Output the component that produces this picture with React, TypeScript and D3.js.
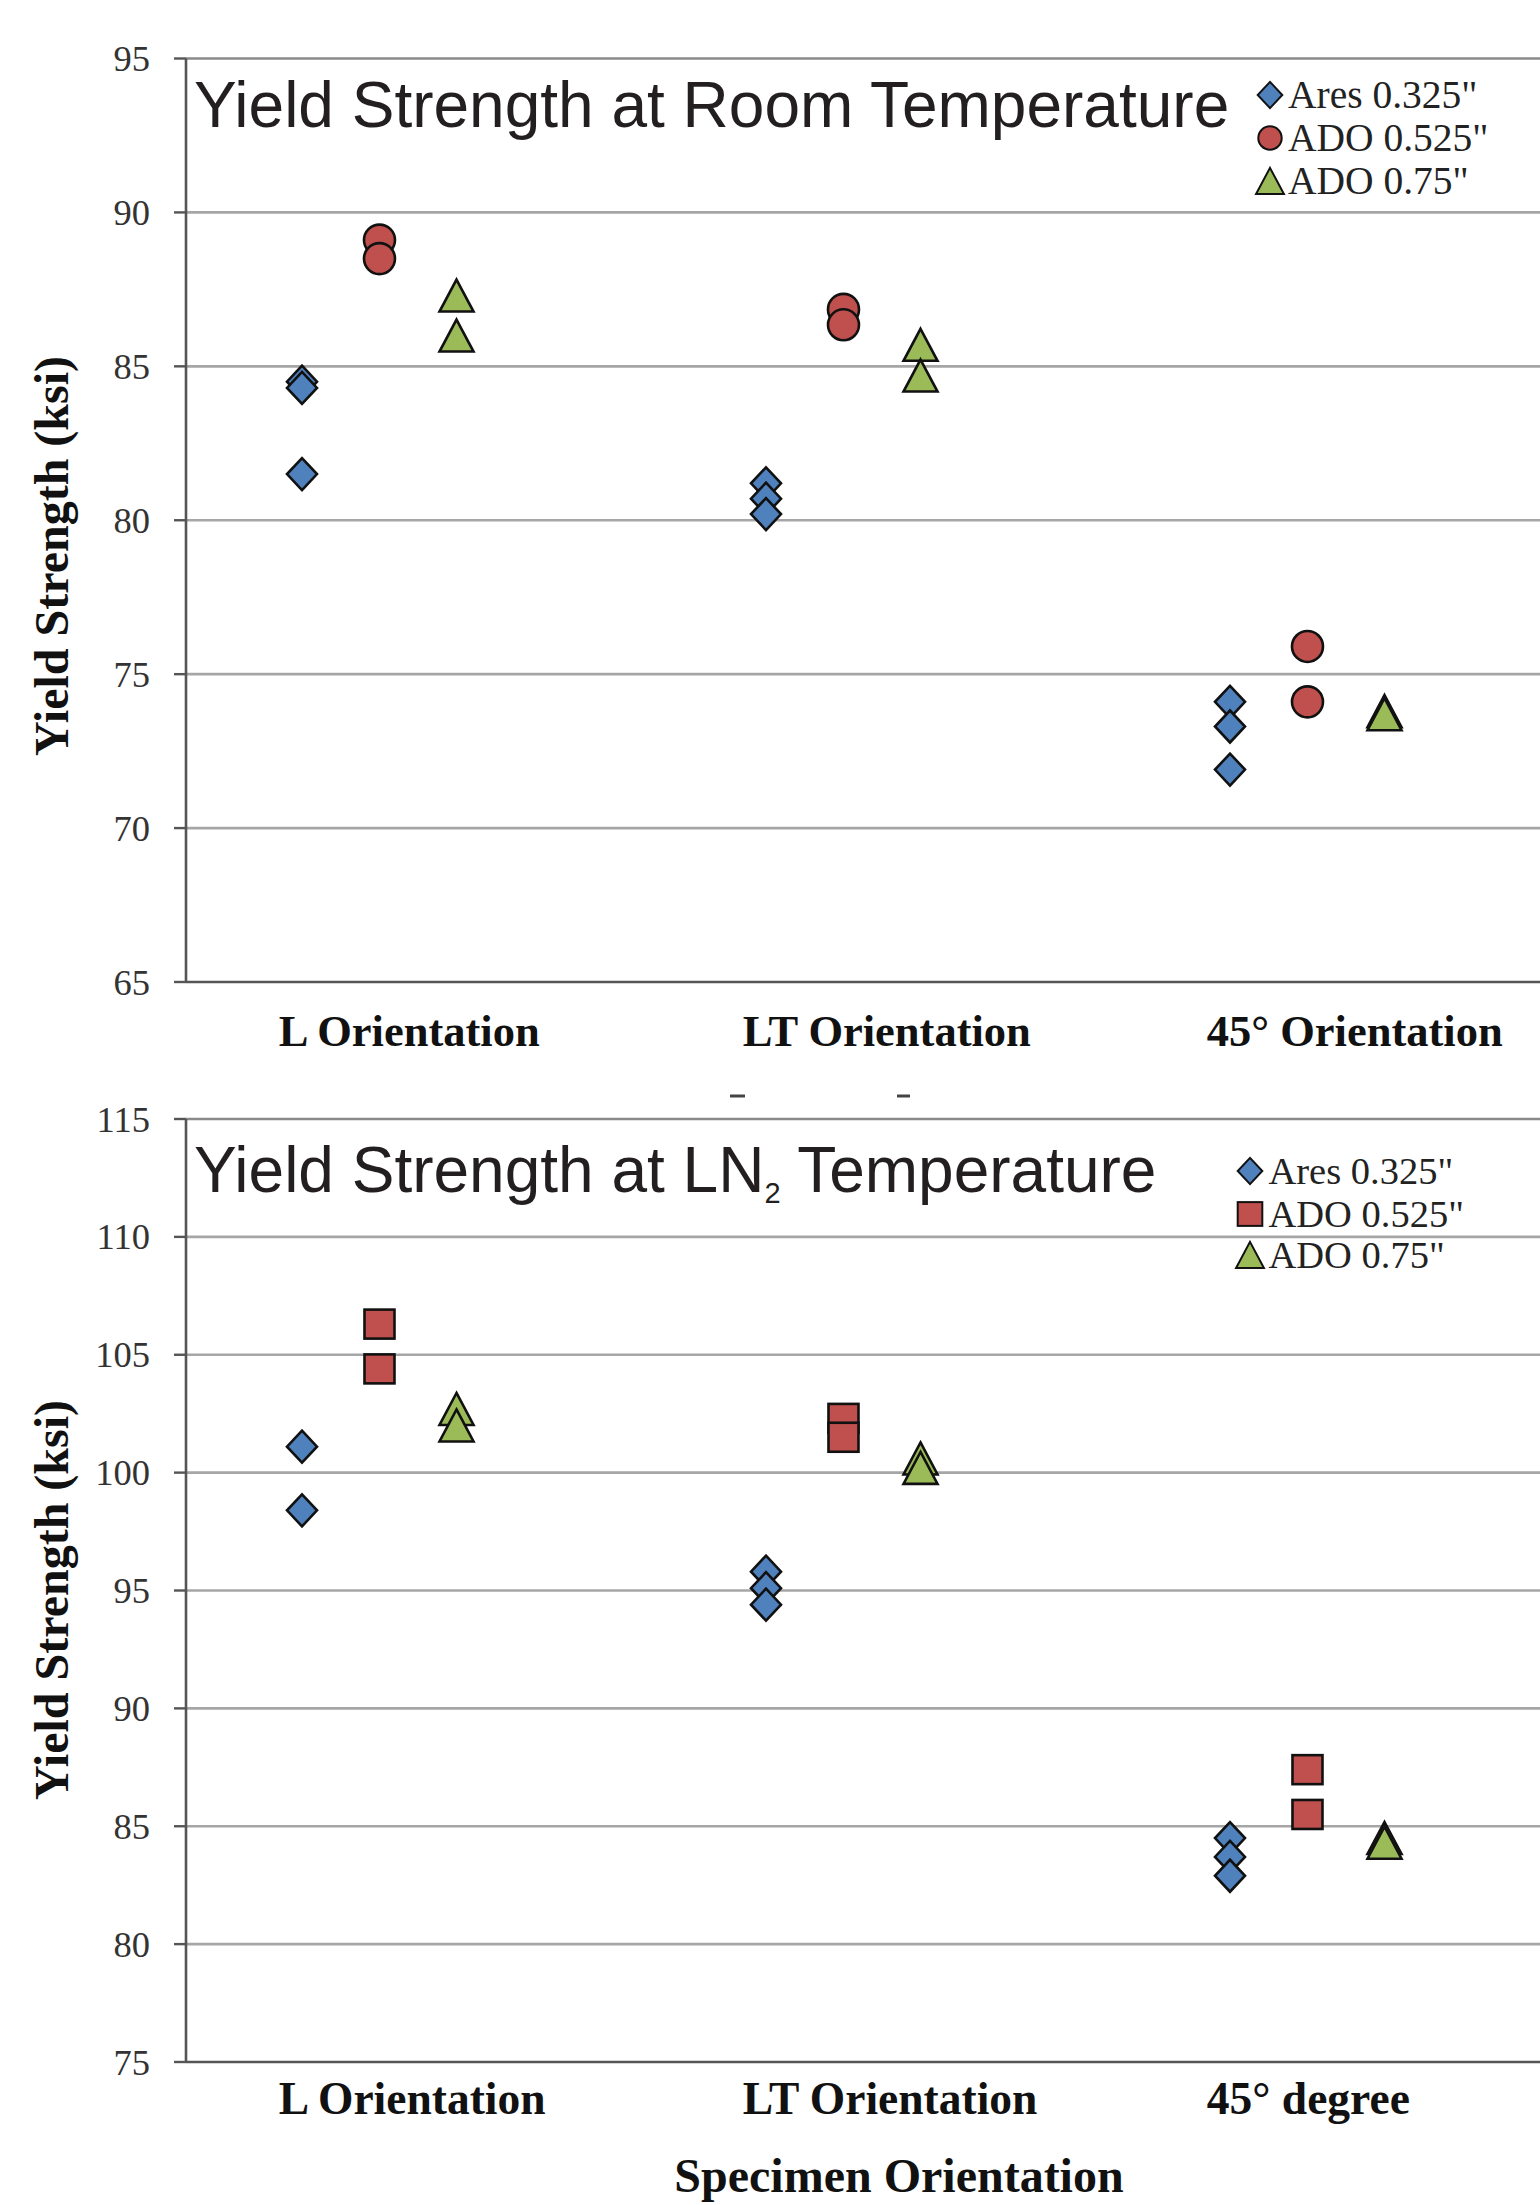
import React from "react";
import * as d3 from "d3";

// ---------------- DATA ----------------
const roomCategories = ["L Orientation", "LT Orientation", "45° Orientation"];
const ln2Categories = ["L Orientation", "LT Orientation", "45° degree"];
const seriesNames = ['Ares 0.325"', 'ADO 0.525"', 'ADO 0.75"'];

// Room temperature yield strength (ksi), per category
const roomAres = [[84.5, 84.3, 81.5], [81.2, 80.7, 80.2], [74.1, 73.3, 71.9]];
const roomAdo525 = [[89.1, 88.5], [86.85, 86.35], [75.9, 74.1]];
const roomAdo75 = [[87.3, 86.0], [85.7, 84.7], [73.8, 73.7]];
const roomTicks = [65, 70, 75, 80, 85, 90, 95];

// LN2 temperature yield strength (ksi), per category
const ln2Ares = [[101.1, 98.4], [95.8, 95.1, 94.4], [84.5, 83.7, 82.9]];
const ln2Ado525 = [[106.3, 104.4], [102.3, 101.5], [87.4, 85.5]];
const ln2Ado75 = [[102.7, 102.0], [100.6, 100.2], [84.5, 84.3]];
const ln2Ticks = [75, 80, 85, 90, 95, 100, 105, 110, 115];

const yTitle = "Yield Strength (ksi)";
const xTitle = "Specimen Orientation";

// ---------------- STYLE / LAYOUT ----------------
const W = 1540;
const H = 2205;
const SERIF = "'Liberation Serif', 'Times New Roman', serif";
const SANS = "'Liberation Sans', Arial, sans-serif";
const COLORS = ["#4F81BD", "#C0504D", "#9BBB59"];
const AXIS_X = 186;
const seriesOffsets = [0.25, 0.417, 0.583];
const labelOffset = 0.2;

const x = d3.scaleLinear().domain([0, 3]).range([AXIS_X, AXIS_X + 3 * 464]);

type Shape = "diamond" | "circle" | "square" | "triangle";

function Marker({ shape, cx, cy, fill, legend }: { shape: Shape; cx: number; cy: number; fill: string; legend?: boolean }) {
  const k = legend ? 0.82 : 1;
  const sw = legend ? 2 : 2.6;
  const common = { fill, stroke: "#111", strokeWidth: sw, strokeLinejoin: "miter" as const };
  if (shape === "circle") {
    const r = 15.5 * k * (legend ? 0.92 : 1);
    return <circle cx={cx} cy={cy} r={r} {...common} />;
  }
  if (shape === "diamond") {
    const w = 15 * k, h = 16 * k;
    return <path d={`M${cx},${cy - h}L${cx + w},${cy}L${cx},${cy + h}L${cx - w},${cy}Z`} {...common} />;
  }
  if (shape === "square") {
    const w = 15 * k, h = 14.5 * k;
    return <rect x={cx - w} y={cy - h} width={2 * w} height={2 * h} {...common} />;
  }
  const w = 17 * k, h = 16 * k;
  return <path d={`M${cx},${cy - h}L${cx + w},${cy + h}L${cx - w},${cy + h}Z`} {...common} />;
}

type PanelCfg = {
  top: number;
  bottom: number;
  domain: [number, number];
  ticks: number[];
  categories: string[];
  series: number[][][];
  shapes: Shape[];
  titleBaseline: number;
  ln2: boolean;
  legendX: number;
  legendTextX: number;
  legendRows: number[];
  legendFont: number;
  catBaseline: number;
  catFont: number;
  yTitleCenter: number;
};

const panels: PanelCfg[] = [
  {
    top: 58.5, bottom: 982, domain: [65, 95], ticks: roomTicks,
    categories: roomCategories,
    series: [roomAres, roomAdo525, roomAdo75],
    shapes: ["diamond", "circle", "triangle"],
    titleBaseline: 127, ln2: false,
    legendX: 1270, legendTextX: 1288, legendRows: [95, 138, 181], legendFont: 39.5,
    catBaseline: 1046, catFont: 44.5, yTitleCenter: 556,
  },
  {
    top: 1119, bottom: 2062, domain: [75, 115], ticks: ln2Ticks,
    categories: ln2Categories,
    series: [ln2Ares, ln2Ado525, ln2Ado75],
    shapes: ["diamond", "square", "triangle"],
    titleBaseline: 1192, ln2: true,
    legendX: 1250, legendTextX: 1268.5, legendRows: [1171, 1214, 1255], legendFont: 38.5,
    catBaseline: 2114, catFont: 45.5, yTitleCenter: 1600,
  },
];

function Panel({ cfg }: { cfg: PanelCfg }) {
  const y = d3.scaleLinear().domain(cfg.domain).range([cfg.bottom, cfg.top]);
  return (
    <g>
      {/* gridlines */}
      {cfg.ticks.map((t) => (
        <line key={"g" + t} x1={AXIS_X} x2={W} y1={y(t)} y2={y(t)}
          stroke={t === cfg.domain[0] ? "#555" : t === cfg.domain[1] ? "#8a8a8a" : "#a6a6a6"}
          strokeWidth={2.6} />
      ))}
      {/* y axis */}
      <line x1={AXIS_X} x2={AXIS_X} y1={cfg.top} y2={cfg.bottom} stroke="#555" strokeWidth={2.6} />
      {cfg.ticks.map((t) => (
        <g key={"t" + t}>
          <line x1={AXIS_X - 12} x2={AXIS_X} y1={y(t)} y2={y(t)} stroke="#555" strokeWidth={2.4} />
          <text x={150} y={y(t) + 12.5} textAnchor="end" fontFamily={SERIF} fontSize={36.5} fill="#333">{t}</text>
        </g>
      ))}
      {/* y title */}
      <text transform={`translate(68,${cfg.yTitleCenter}) rotate(-90)`} textAnchor="middle"
        fontFamily={SERIF} fontWeight="bold" fontSize={48} fill="#111">{yTitle}</text>
      {/* category labels */}
      {cfg.categories.map((c, i) => (
        <text key={c + i} x={x(i + labelOffset)} y={cfg.catBaseline} fontFamily={SERIF}
          fontWeight="bold" fontSize={cfg.catFont} fill="#111">{c}</text>
      ))}
      {/* title */}
      {cfg.ln2 ? (
        <text x={194} y={cfg.titleBaseline} fontFamily={SANS} fontSize={64} fill="#231f20">
          Yield Strength at LN<tspan fontSize={29} dy={11}>2</tspan><tspan dy={-11}> Temperature</tspan>
        </text>
      ) : (
        <text x={194} y={cfg.titleBaseline} fontFamily={SANS} fontSize={64} fill="#231f20">
          Yield Strength at Room Temperature
        </text>
      )}
      {/* legend */}
      {seriesNames.map((s, i) => (
        <g key={"l" + i}>
          <Marker shape={cfg.shapes[i]} cx={cfg.legendX} cy={cfg.legendRows[i]} fill={COLORS[i]} legend />
          <text x={cfg.legendTextX} y={cfg.legendRows[i] + 12.5} fontFamily={SERIF}
            fontSize={cfg.legendFont} fill="#222">{s}</text>
        </g>
      ))}
      {/* markers */}
      {cfg.series.map((ser, si) =>
        ser.map((vals, ci) =>
          vals.map((v, vi) => (
            <Marker key={`${si}-${ci}-${vi}`} shape={cfg.shapes[si]} cx={x(ci + seriesOffsets[si])}
              cy={y(v)} fill={COLORS[si]} />
          ))
        )
      )}
    </g>
  );
}

export default function App() {
  return (
    <svg width={W} height={H} viewBox={`0 0 ${W} ${H}`}
      style={{ position: "absolute", left: 0, top: 0, background: "#fff", display: "block" }}>
      <rect x={0} y={0} width={W} height={H} fill="#fff" />
      {panels.map((p, i) => <Panel key={i} cfg={p} />)}
      {/* small stray dashes between panels */}
      <line x1={730} x2={745} y1={1096} y2={1096} stroke="#444" strokeWidth={3} />
      <line x1={897} x2={910} y1={1096} y2={1096} stroke="#444" strokeWidth={3} />
      <text x={899} y={2192} textAnchor="middle" fontFamily={SERIF} fontWeight="bold" fontSize={48} fill="#111">{xTitle}</text>
    </svg>
  );
}
